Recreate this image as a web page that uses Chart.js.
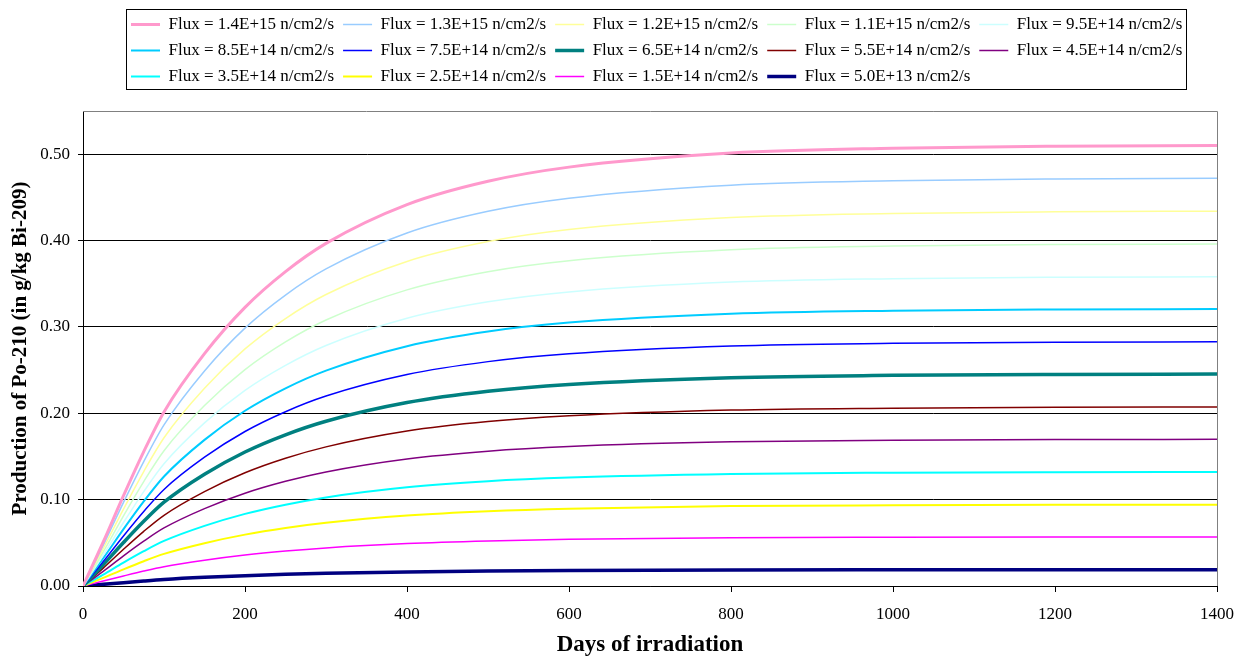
<!DOCTYPE html>
<html>
<head>
<meta charset="utf-8">
<title>Production of Po-210</title>
<script src="https://cdn.jsdelivr.net/npm/chart.js@4.4.1/dist/chart.umd.min.js"></script>
<style>
  html, body { margin: 0; padding: 0; background: #fff; }
  #wrap { position: relative; width: 1248px; height: 659px; }
</style>
</head>
<body>
<div id="wrap"><canvas id="chart"></canvas></div>
<script>
// x: days of irradiation
const days = [0, 25, 50, 75, 100, 150, 200, 250, 300, 400, 500, 600, 800, 1000, 1200, 1400];

// y: Po-210 in g/kg Bi-209, one array per flux
const flux140 = [0, 0.0510, 0.1047, 0.1557, 0.2016, 0.2690, 0.3226, 0.3640, 0.3967, 0.4416, 0.4686, 0.4850, 0.5013, 0.5069, 0.5092, 0.5100];
const flux130 = [0, 0.0473, 0.0969, 0.1441, 0.1866, 0.2490, 0.2986, 0.3369, 0.3671, 0.4087, 0.4338, 0.4489, 0.4640, 0.4692, 0.4713, 0.4720];
const flux120 = [0, 0.0434, 0.0891, 0.1325, 0.1716, 0.2289, 0.2745, 0.3097, 0.3375, 0.3758, 0.3988, 0.4127, 0.4266, 0.4314, 0.4333, 0.4340];
const flux110 = [0, 0.0396, 0.0813, 0.1209, 0.1566, 0.2089, 0.2505, 0.2826, 0.3080, 0.3429, 0.3639, 0.3766, 0.3893, 0.3936, 0.3954, 0.3960];
const flux95 = [0, 0.0358, 0.0735, 0.1093, 0.1416, 0.1889, 0.2265, 0.2555, 0.2785, 0.3100, 0.3290, 0.3405, 0.3519, 0.3559, 0.3575, 0.3580];
const flux85 = [0, 0.0321, 0.0658, 0.0979, 0.1268, 0.1692, 0.2029, 0.2289, 0.2494, 0.2777, 0.2947, 0.3050, 0.3152, 0.3188, 0.3202, 0.3207];
const flux75 = [0, 0.0283, 0.0580, 0.0863, 0.1118, 0.1491, 0.1789, 0.2018, 0.2199, 0.2448, 0.2598, 0.2689, 0.2779, 0.2810, 0.2823, 0.2827];
const flux65 = [0, 0.0246, 0.0503, 0.0749, 0.0970, 0.1294, 0.1552, 0.1751, 0.1908, 0.2124, 0.2255, 0.2333, 0.2412, 0.2439, 0.2450, 0.2454];
const flux55 = [0, 0.0207, 0.0425, 0.0633, 0.0819, 0.1093, 0.1311, 0.1479, 0.1611, 0.1794, 0.1904, 0.1970, 0.2037, 0.2059, 0.2069, 0.2072];
const flux45 = [0, 0.0170, 0.0349, 0.0519, 0.0672, 0.0896, 0.1074, 0.1212, 0.1321, 0.1471, 0.1561, 0.1615, 0.1669, 0.1688, 0.1696, 0.1698];
const flux35 = [0, 0.0132, 0.0271, 0.0403, 0.0522, 0.0696, 0.0835, 0.0942, 0.1026, 0.1143, 0.1213, 0.1255, 0.1297, 0.1312, 0.1318, 0.1320];
const flux25 = [0, 0.0094, 0.0193, 0.0287, 0.0372, 0.0496, 0.0595, 0.0672, 0.0732, 0.0815, 0.0865, 0.0895, 0.0925, 0.0935, 0.0940, 0.0941];
const flux15 = [0, 0.0057, 0.0116, 0.0173, 0.0224, 0.0299, 0.0359, 0.0405, 0.0441, 0.0491, 0.0521, 0.0540, 0.0558, 0.0564, 0.0567, 0.0567];
const flux05 = [0, 0.0019, 0.0039, 0.0058, 0.0075, 0.0100, 0.0119, 0.0135, 0.0147, 0.0163, 0.0173, 0.0180, 0.0186, 0.0188, 0.0189, 0.0189];

const seriesLabels = [
  "Flux = 1.4E+15 n/cm2/s", "Flux = 1.3E+15 n/cm2/s", "Flux = 1.2E+15 n/cm2/s",
  "Flux = 1.1E+15 n/cm2/s", "Flux = 9.5E+14 n/cm2/s", "Flux = 8.5E+14 n/cm2/s",
  "Flux = 7.5E+14 n/cm2/s", "Flux = 6.5E+14 n/cm2/s", "Flux = 5.5E+14 n/cm2/s",
  "Flux = 4.5E+14 n/cm2/s", "Flux = 3.5E+14 n/cm2/s", "Flux = 2.5E+14 n/cm2/s",
  "Flux = 1.5E+14 n/cm2/s", "Flux = 5.0E+13 n/cm2/s"
];
const seriesValues = [flux140, flux130, flux120, flux110, flux95, flux85, flux75,
  flux65, flux55, flux45, flux35, flux25, flux15, flux05];

// tick labels
const xTicks = [0, 200, 400, 600, 800, 1000, 1200, 1400];
const yTicks = [0, 0.1, 0.2, 0.3, 0.4, 0.5];

// line styles (excel palette)
const lineColors = ["#FF99CC", "#99CCFF", "#FFFF99", "#CCFFCC", "#CCFFFF", "#00CCFF", "#0000FF",
  "#008080", "#800000", "#800080", "#00FFFF", "#FFFF00", "#FF00FF", "#000080"];
const lineWidths = [3, 1.5, 1.5, 1.5, 1.5, 2, 1.5, 3.5, 1.5, 1.5, 2, 2, 1.5, 3.5];

const serif = "'Liberation Serif', 'Times New Roman', serif";

const datasets = seriesLabels.map((label, i) => ({
  label: label,
  data: days.map((d, j) => ({ x: d, y: seriesValues[i][j] })),
  borderColor: lineColors[i],
  backgroundColor: lineColors[i],
  borderWidth: lineWidths[i],
  pointRadius: 0,
  fill: false,
  cubicInterpolationMode: "monotone",
}));

// legend sits in its own framed box, left-aligned like the excel one
const legendBox = {
  id: "legendBox",
  afterLayout(chart) {
    const lg = chart.legend;
    const pad = lg.options.labels.padding;
    const dx = 131 - (lg.left + pad);
    lg.left += dx;
    lg.right += dx;
  },
  afterDraw(chart) {
    const hb = chart.legend.legendHitBoxes;
    if (!hb || !hb.length) return;
    let l = Infinity, r = -Infinity, t = Infinity, b = -Infinity;
    hb.forEach(h => {
      l = Math.min(l, h.left); r = Math.max(r, h.left + h.width);
      t = Math.min(t, h.top); b = Math.max(b, h.top + h.height);
    });
    const ctx = chart.ctx;
    ctx.save();
    ctx.strokeStyle = "#000";
    ctx.lineWidth = 1;
    ctx.strokeRect(Math.round(l - 5) + 0.5, Math.round(t - 7) + 0.5, Math.round(r - l + 9), Math.round(b - t + 11));
    ctx.restore();
  },
};

// grey plot-area frame on top and right
const plotFrame = {
  id: "plotFrame",
  beforeDatasetsDraw(chart) {
    const { ctx, chartArea: a } = chart;
    ctx.save();
    ctx.strokeStyle = "#808080";
    ctx.lineWidth = 1;
    ctx.beginPath();
    ctx.moveTo(a.left, Math.round(a.top) + 0.5);
    ctx.lineTo(Math.round(a.right) + 0.5, Math.round(a.top) + 0.5);
    ctx.lineTo(Math.round(a.right) + 0.5, a.bottom);
    ctx.stroke();
    ctx.restore();
  },
};

new Chart(document.getElementById("chart"), {
  type: "line",
  data: { datasets: datasets },
  plugins: [legendBox, plotFrame],
  options: {
    responsive: true,
    maintainAspectRatio: false,
    animation: false,
    layout: { padding: { top: 7, right: 31, left: 0, bottom: 0 } },
    plugins: {
      tooltip: { enabled: false },
      legend: {
        position: "top",
        align: "start",
        fullSize: false,
        labels: {
          color: "#000",
          font: { family: serif, size: 17 },
          padding: 9,
          usePointStyle: true,
          pointStyle: "line",
          pointStyleWidth: 29,
          boxHeight: 17,
        },
      },
      // spacer between legend and plot area
      subtitle: {
        display: true,
        text: "",
        weight: 500,
        font: { size: 0 },
        padding: { top: 0, bottom: 16 },
      },
    },
    scales: {
      x: {
        type: "linear",
        min: 0,
        max: 1400,
        afterBuildTicks: s => { s.ticks = xTicks.map(v => ({ value: v })); },
        afterFit: s => { s.height = 73; },
        grid: { drawOnChartArea: false, drawTicks: true, tickLength: 6, color: "#000" },
        border: { color: "#000", width: 1 },
        ticks: {
          color: "#000",
          font: { family: serif, size: 17 },
          padding: 12,
          maxRotation: 0,
          callback: v => String(v),
        },
        title: {
          display: true,
          text: "Days of irradiation",
          color: "#000",
          font: { family: serif, size: 23, weight: "bold" },
          padding: { top: 0, bottom: 0 },
        },
      },
      y: {
        type: "linear",
        min: 0,
        max: 0.55,
        afterBuildTicks: s => { s.ticks = yTicks.map(v => ({ value: v })); },
        afterFit: s => { s.width = 83; },
        grid: { color: "#000", lineWidth: 1, tickLength: 5 },
        border: { color: "#000", width: 1 },
        ticks: {
          color: "#000",
          font: { family: serif, size: 17 },
          padding: 8,
          callback: v => Number(v).toFixed(2),
        },
        title: {
          display: true,
          text: "Production of Po-210 (in g/kg Bi-209)",
          color: "#000",
          font: { family: serif, size: 21, weight: "bold" },
          padding: { top: 8, bottom: 0 },
        },
      },
    },
  },
});
</script>
</body>
</html>
